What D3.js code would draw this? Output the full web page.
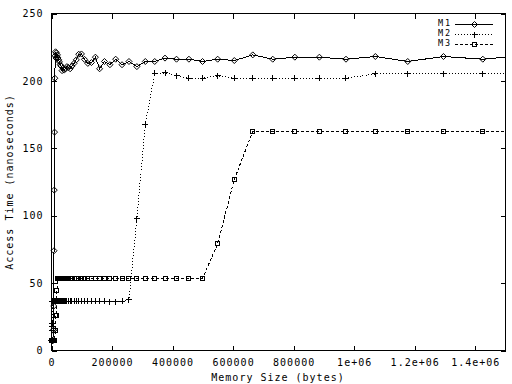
<!DOCTYPE html>
<html>
<head>
<meta charset="utf-8">
<script src="https://cdn.jsdelivr.net/npm/d3@7"></script>
<style>
  html, body { margin: 0; padding: 0; background: #fff; }
  svg { display: block; }
  text { font-family: "DejaVu Sans Mono", monospace; font-size: 10px; letter-spacing: 1px; fill: #000; }
  text.legend { font-size: 8.5px; letter-spacing: 1.9px; }
</style>
</head>
<body>
<svg id="chart" width="512" height="384"></svg>
<script>
// memory block sizes (bytes), shared by all three machines
const sizes = [
  1020, 1240, 1500, 1810, 2190, 2650, 3210, 3880, 4700, 5690,
  6890, 7580, 8340, 9170, 10100, 11100, 12200, 13400, 14700, 16200,
  17800, 19600, 21600, 23700, 26100, 28700, 31600, 34800, 38200, 42000,
  46300, 50900, 56000, 61600, 67700, 74500, 82000, 90000, 99000, 109000,
  120000, 132000, 145000, 159000, 175000, 193000, 212000, 233000, 256000, 282000,
  310000, 341000, 375000, 413000, 454000, 499000, 549000, 604000, 665000, 731000,
  804000, 885000, 973000, 1070000, 1177000, 1295000, 1425000, 1567000
];

// access time (ns)
const m1 = [
  7.4, 7.4, 7.4, 7.4, 7.4, 7.4, 7.4, 7.4, 7.4, 15,
  15, 33, 74, 119, 162, 202, 218.6, 221.6, 217, 220.8,
  217.8, 219.3, 217, 215.6, 214.1, 212, 211, 207.6, 209.5, 208,
  209, 210.6, 210, 209, 211, 213, 215.6, 219.8, 220, 216,
  213, 213.6, 217.6, 209, 214.4, 212, 216.1, 212, 214.4, 210.6,
  214.4, 214.4, 216.9, 216.1, 216.1, 214.4, 216.1, 215.1, 219.3, 216.1,
  217.6, 217.6, 216.1, 218.1, 214.4, 218.1, 216.1, 219
];
const m2 = [
  15, 15, 18, 20, 36.6, 36.6, 36.6, 36.6, 36.6, 36.6,
  36.6, 36.6, 36.6, 36.6, 36.6, 36.6, 36.6, 36.6, 36.6, 36.6,
  36.6, 36.6, 36.6, 36.6, 36.6, 36.6, 36.6, 36.6, 36.6, 36.6,
  36.6, 36.6, 36.6, 36.6, 36.6, 36.6, 36.6, 36.6, 36.6, 36.6,
  36.6, 36.6, 36.6, 36.6, 36.6, 36, 36, 36.7, 37.7, 97.9,
  168, 205.5, 205.9, 204, 202, 202, 203.7, 202, 202, 202,
  202, 202, 202, 205.2, 205.2, 205.2, 205.2, 205.2
];
const m3 = [
  7.4, 7.4, 7.4, 7.4, 7.4, 7.4, 7.4, 7.4, 7.4, 7.4,
  7.4, 7.4, 7.4, 7.4, 7.4, 7.4, 15, 15, 26, 26,
  44.6, 53.5, 53.5, 53.5, 53.5, 53.5, 53.5, 53.5, 53.5, 53.5,
  53.5, 53.5, 53.5, 53.5, 53.5, 53.5, 53.5, 53.5, 53.5, 53.5,
  53.5, 53.5, 53.5, 53.5, 53.5, 53.5, 53.5, 53.5, 53.5, 53.5,
  53.5, 53.5, 53.5, 53.5, 53.5, 53.5, 79.3, 126.9, 162.6, 162.6,
  162.6, 162.6, 162.6, 162.6, 162.6, 162.6, 162.6, 162.6
];

const seriesNames = ["M1", "M2", "M3"];
const xTicks = [0, 200000, 400000, 600000, 800000, 1000000, 1200000, 1400000];
const xTickLabels = ["0", "200000", "400000", "600000", "800000", "1e+06", "1.2e+06", "1.4e+06"];
const yTicks = [0, 50, 100, 150, 200, 250];

const width = 512, height = 384;
const margin = { top: 13.5, right: 6.5, bottom: 33.5, left: 51.5 };
const xMax = 1500000;

const svg = d3.select("#chart");

const x = d3.scaleLinear().domain([0, xMax]).range([margin.left, width - margin.right]);
const y = d3.scaleLinear().domain([0, 250]).range([height - margin.bottom, margin.top]);

const styles = [
  { dash: null, marker: "diamond" },
  { dash: "1,2", marker: "plus" },
  { dash: "3,2", marker: "square" }
];

function marker(g, type, cx, cy) {
  if (type === "diamond") {
    g.append("path").attr("d", `M${cx},${cy - 3}L${cx + 3},${cy}L${cx},${cy + 3}L${cx - 3},${cy}Z`)
      .attr("fill", "none").attr("stroke", "#000");
  } else if (type === "plus") {
    g.append("path").attr("d", `M${cx - 3},${cy}H${cx + 3}M${cx},${cy - 3}V${cy + 3}`)
      .attr("stroke", "#000").attr("shape-rendering", "crispEdges");
  } else {
    g.append("rect").attr("x", cx - 2).attr("y", cy - 2).attr("width", 4).attr("height", 4)
      .attr("fill", "none").attr("stroke", "#000").attr("shape-rendering", "crispEdges");
  }
}

svg.append("clipPath").attr("id", "plot-clip")
  .append("rect")
  .attr("x", x(0)).attr("y", y(250))
  .attr("width", x(xMax) - x(0)).attr("height", y(0) - y(250));

// axes: inward ticks on all four sides
const axBottom = svg.append("g")
  .attr("transform", `translate(0,${y(0)})`)
  .call(d3.axisBottom(x).tickValues(xTicks).tickFormat((d, i) => xTickLabels[i]).tickSize(-5).tickPadding(8));
const axLeft = svg.append("g")
  .attr("transform", `translate(${x(0)},0)`)
  .call(d3.axisLeft(y).tickValues(yTicks).tickFormat(d3.format("d")).tickSize(-5).tickPadding(8));
const axTop = svg.append("g")
  .attr("transform", `translate(0,${y(250)})`)
  .call(d3.axisTop(x).tickValues(xTicks).tickFormat("").tickSize(-5));
const axRight = svg.append("g")
  .attr("transform", `translate(${x(xMax)},0)`)
  .call(d3.axisRight(y).tickValues(yTicks).tickFormat("").tickSize(-5));

[axBottom, axLeft, axTop, axRight].forEach(a => {
  a.select(".domain").remove();
  a.attr("font-family", null).attr("font-size", null);
  a.selectAll("line").attr("stroke", "#000").attr("shape-rendering", "crispEdges");
});

svg.append("rect")
  .attr("x", x(0)).attr("y", y(250))
  .attr("width", x(xMax) - x(0)).attr("height", y(0) - y(250))
  .attr("fill", "none").attr("stroke", "#000");

// data
const series = [m1, m2, m3].map((vals, i) => ({
  name: seriesNames[i],
  points: sizes.map((s, j) => ({ x: s, y: vals[j] }))
}));

const line = d3.line().x(d => x(d.x)).y(d => y(d.y));

series.forEach((s, i) => {
  svg.append("path")
    .datum(s.points)
    .attr("d", line)
    .attr("clip-path", "url(#plot-clip)")
    .attr("fill", "none")
    .attr("stroke", "#000")
    .attr("stroke-width", 1)
    .attr("stroke-dasharray", styles[i].dash)
    .attr("shape-rendering", "crispEdges");
  const mg = svg.append("g");
  s.points.filter(d => d.x <= xMax).forEach(d => marker(mg, styles[i].marker, x(d.x), y(d.y)));
});

// legend
series.forEach((s, i) => {
  const ly = 23.5 + 10 * i;
  svg.append("text").attr("class", "legend").attr("x", 452).attr("y", ly).attr("dy", "0.35em")
    .attr("text-anchor", "end").text(s.name);
  svg.append("line").attr("x1", 455).attr("x2", 493).attr("y1", Math.round(ly) + 0.5).attr("y2", Math.round(ly) + 0.5)
    .attr("stroke", "#000").attr("stroke-dasharray", styles[i].dash).attr("shape-rendering", "crispEdges");
  marker(svg, styles[i].marker, 474.5, Math.round(ly) + 0.5);
});

// titles
svg.append("text")
  .attr("x", 278).attr("y", 377.7).attr("dy", "0.35em")
  .attr("text-anchor", "middle")
  .text("Memory Size (bytes)");
svg.append("text")
  .attr("transform", "translate(9,182) rotate(-90)")
  .attr("dy", "0.35em")
  .attr("text-anchor", "middle")
  .text("Access Time (nanoseconds)");
</script>
</body>
</html>
